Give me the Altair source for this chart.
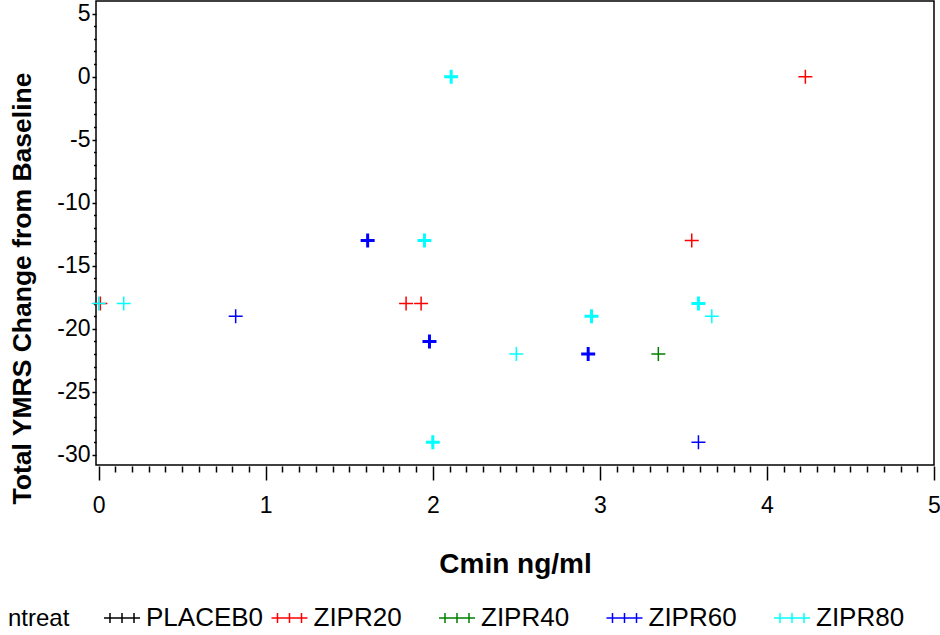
import altair as alt
import pandas as pd

# ---- data ----
treatments = ["PLACEB0", "ZIPR20", "ZIPR40", "ZIPR60", "ZIPR80"]
colors = ["#000000", "#FF0000", "#008000", "#0000FF", "#00FFFF"]

zipr20_cmin = [0.01, 1.84, 1.93, 3.55, 4.23]
zipr20_ymrs = [-18, -18, -18, -13, 0]

zipr40_cmin = [3.35]
zipr40_ymrs = [-22]

zipr60_cmin = [0.82, 1.61, 1.61, 1.98, 1.98, 2.93, 2.93, 3.59]
zipr60_ymrs = [-19, -13, -13, -21, -21, -22, -22, -29]

zipr80_cmin = [0.00, 0.15, 1.95, 1.95, 2.00, 2.00, 2.11, 2.11, 2.50, 2.95, 2.95, 3.59, 3.59, 3.67]
zipr80_ymrs = [-18, -18, -13, -13, -29, -29, 0, 0, -22, -19, -19, -18, -18, -19]

x_major = [0, 1, 2, 3, 4, 5]
y_major = [-30, -25, -20, -15, -10, -5, 0, 5]

rows = []
for name, xs, ys in [("ZIPR20", zipr20_cmin, zipr20_ymrs),
                     ("ZIPR40", zipr40_cmin, zipr40_ymrs),
                     ("ZIPR60", zipr60_cmin, zipr60_ymrs),
                     ("ZIPR80", zipr80_cmin, zipr80_ymrs)]:
    for xv, yv in zip(xs, ys):
        rows.append({"ntreat": name, "cmin": xv, "ymrs": yv})
df = pd.DataFrame(rows)

# axis tick positions (majors + minors)
x_ticks = [round(i * 0.1, 1) for i in range(0, 51)]
y_ticks = list(range(-30, 6))

FONT = "Liberation Sans"
PLUS = "M-1,0L1,0M0,-1L0,1"
LEGEND_SYMBOL = "M-1,0L1,0M-0.667,-0.28L-0.667,0.28M0,-0.28L0,0.28M0.667,-0.28L0.667,0.28"

is_int = "abs(datum.value - round(datum.value)) < 0.001"

x_axis = alt.Axis(
    values=x_ticks,
    labelExpr=f"{is_int} ? '' + round(datum.value) : ''",
    tickSize={"condition": {"test": is_int, "value": 14}, "value": 6},
    tickColor="black", tickWidth=1.5, domain=False, grid=False,
    labelFont=FONT, labelFontSize=23, labelColor="black", labelPadding=14,
    labelFlush=False, labelOverlap=False, labelBound=False,
    offset=1,
    title="Cmin ng/ml", titleFont=FONT, titleFontSize=28, titleFontWeight="bold",
    titleColor="black", titleY=106, titleBaseline="alphabetic",
)

y_axis = alt.Axis(
    values=y_ticks,
    labelExpr="datum.value % 5 === 0 ? '' + datum.value : ''",
    tickSize={"condition": {"test": "datum.value % 5 === 0", "value": 4}, "value": 2.5},
    tickColor="black", tickWidth=1.5, domain=False, grid=False,
    labelFont=FONT, labelFontSize=23, labelColor="black", labelPadding=2,
    labelFlush=False, labelOverlap=False, labelBound=False,
    title="Total YMRS Change from Baseline", titleFont=FONT, titleFontSize=26.5,
    titleFontWeight="bold", titleColor="black", titleAngle=270,
    titleX=-74, titleY=287, titleAlign="center", titleBaseline="middle",
)

legend = alt.Legend(
    orient="none", legendX=-88, legendY=598, direction="horizontal", columns=5,
    title="ntreat", titleOrient="left", titleFont=FONT, titleFontSize=24,
    titleFontWeight="normal", titleColor="black", titlePadding=33,
    titleAnchor="end", titleBaseline="bottom",
    labelFont=FONT, labelFontSize=26, labelColor="black", labelOffset=5,
    symbolType=LEGEND_SYMBOL, symbolSize=1296, symbolStrokeWidth=1.5,
    symbolOpacity=1, gridAlign="all", columnPadding=4.5, rowPadding=0, padding=0,
)

chart = alt.Chart(df).mark_point(
    shape=PLUS, filled=False, size=196, opacity=1
).encode(
    x=alt.X("cmin:Q", scale=alt.Scale(domain=[-0.016, 5.0], nice=False, zero=False), axis=x_axis),
    y=alt.Y("ymrs:Q", scale=alt.Scale(domain=[-30.8, 6.0], nice=False, zero=False), axis=y_axis),
    color=alt.Color("ntreat:N", scale=alt.Scale(domain=treatments, range=colors), legend=legend),
    strokeWidth=alt.StrokeWidth("count():Q", scale=alt.Scale(domain=[1, 2], range=[1.5, 3]), legend=None),
).properties(
    width=838, height=464,
    padding={"left": 96, "top": 1, "right": 6, "bottom": 170},
    autosize=alt.AutoSizeParams(type="none"),
    background="white",
).configure_view(stroke="black", strokeWidth=1.5)

chart.save("out.html", embed_options={"renderer": "svg", "actions": False})
